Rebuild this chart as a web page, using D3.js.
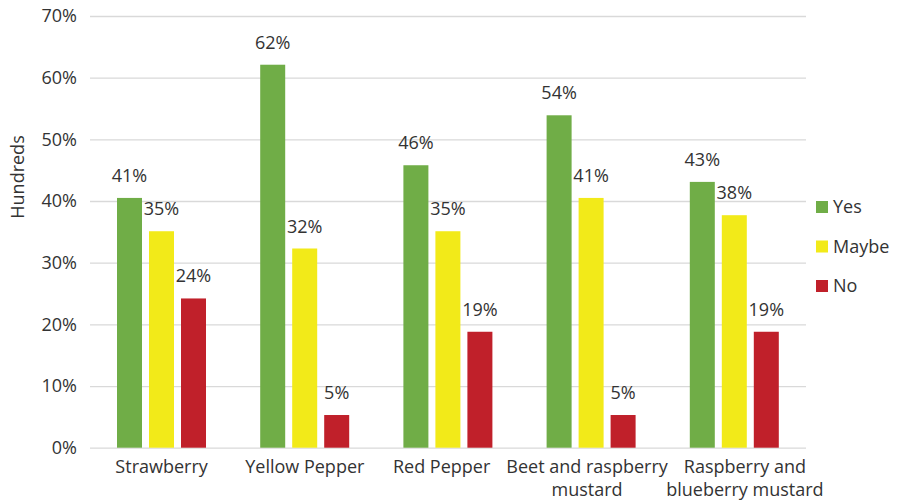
<!DOCTYPE html>
<html>
<head>
<meta charset="utf-8">
<script src="https://cdn.jsdelivr.net/npm/d3@7"></script>
<style>
  html, body { margin: 0; padding: 0; background: #fff; }
  svg { display: block; font-family: "Open Sans", sans-serif; }
</style>
</head>
<body>
<svg id="chart" width="898" height="504"></svg>
<script>
const categories = [
  ["Strawberry"],
  ["Yellow Pepper"],
  ["Red Pepper"],
  ["Beet and raspberry", "mustard"],
  ["Raspberry and", "blueberry mustard"]
];
const seriesNames = ["Yes", "Maybe", "No"];
const seriesColors = ["#70AD47", "#F2EA19", "#C0202A"];
const yesValues   = [40.5, 62.1, 45.8, 53.9, 43.1];
const maybeValues = [35.1, 32.3, 35.1, 40.5, 37.7];
const noValues    = [24.2, 5.3, 18.8, 5.3, 18.8];
const yesLabels   = ["41%", "62%", "46%", "54%", "43%"];
const maybeLabels = ["35%", "32%", "35%", "41%", "38%"];
const noLabels    = ["24%", "5%", "19%", "5%", "19%"];
const yTicks = [0, 10, 20, 30, 40, 50, 60, 70];
const yTitle = "Hundreds";

const seriesValues = [yesValues, maybeValues, noValues];
const seriesLabels = [yesLabels, maybeLabels, noLabels];

const svg = d3.select("#chart");
const plot = { left: 90, right: 806, top: 16, bottom: 447.7 };
const textColor = "#333333";
const fontSize = 18;

const x0 = d3.scaleBand()
  .domain(d3.range(categories.length))
  .range([plot.left, plot.right])
  .padding(0);

const x1 = d3.scaleBand()
  .domain(seriesNames)
  .range([27, 27 + 89])
  .paddingInner(7 / 32)
  .paddingOuter(0);

const y = d3.scaleLinear().domain([0, 70]).range([plot.bottom, plot.top]);

// Gridlines
const yAxis = d3.axisLeft(y)
  .tickValues(yTicks)
  .tickSize(-(plot.right - plot.left))
  .tickPadding(13)
  .tickFormat(d => d + "%");

const gy = svg.append("g")
  .attr("transform", `translate(${plot.left},0)`)
  .call(yAxis);
gy.select(".domain").remove();
gy.selectAll(".tick line").attr("stroke", "#d9d9d9").attr("stroke-width", 1.3);
gy.selectAll(".tick text")
  .attr("fill", textColor)
  .style("font-size", fontSize + "px")
  .style("font-family", "Open Sans, sans-serif");

// Bars
const groups = svg.append("g").selectAll("g")
  .data(categories.map((c, i) => i))
  .join("g")
  .attr("transform", i => `translate(${x0(i)},0)`);

seriesNames.forEach((s, si) => {
  groups.append("rect")
    .attr("x", x1(s))
    .attr("width", x1.bandwidth())
    .attr("y", i => y(seriesValues[si][i]))
    .attr("height", i => y(0) - y(seriesValues[si][i]))
    .attr("fill", seriesColors[si]);

  groups.append("text")
    .attr("x", x1(s) + x1.bandwidth() / 2)
    .attr("y", i => y(seriesValues[si][i]) - 16)
    .attr("text-anchor", "middle")
    .attr("fill", textColor)
    .style("font-size", fontSize + "px")
    .text(i => seriesLabels[si][i]);
});

// Category labels (with simple overlap avoidance on the first line)
const catG = svg.append("g").selectAll("text")
  .data(categories)
  .join("text")
  .attr("x", (d, i) => x0(i) + x0.bandwidth() / 2)
  .attr("y", 473)
  .attr("text-anchor", "middle")
  .attr("fill", textColor)
  .style("font-size", fontSize + "px");
catG.selectAll("tspan")
  .data(d => d)
  .join("tspan")
  .attr("x", function() { return d3.select(this.parentNode).attr("x"); })
  .attr("dy", (d, j) => j === 0 ? 0 : 23)
  .text(d => d);

const nodes = [];
catG.each(function(d, i) {
  const first = d3.select(this).select("tspan").node();
  const w = first.getComputedTextLength();
  nodes.push({ el: this, c: x0(i) + x0.bandwidth() / 2, w });
});
const minGap = 16;
for (let iter = 0; iter < 50; iter++) {
  for (let i = 0; i < nodes.length - 1; i++) {
    const a = nodes[i], b = nodes[i + 1];
    const overlap = (a.c + a.w / 2 + minGap) - (b.c - b.w / 2);
    if (overlap > 0) { a.c -= overlap / 2; b.c += overlap / 2; }
  }
}
nodes.forEach(n => {
  d3.select(n.el).attr("x", n.c).selectAll("tspan").attr("x", n.c);
});

// Y title
svg.append("text")
  .attr("transform", "translate(24,177) rotate(-90)")
  .attr("text-anchor", "middle")
  .attr("fill", textColor)
  .style("font-size", fontSize + "px")
  .text(yTitle);

// Legend
const legend = svg.append("g").selectAll("g")
  .data(seriesNames)
  .join("g")
  .attr("transform", (d, i) => `translate(816,${207 + i * 39.5})`);
legend.append("rect")
  .attr("x", 0).attr("y", -6)
  .attr("width", 12).attr("height", 12)
  .attr("fill", (d, i) => seriesColors[i]);
legend.append("text")
  .attr("x", 17).attr("y", 6)
  .attr("fill", textColor)
  .style("font-size", fontSize + "px")
  .text(d => d);
</script>
</body>
</html>
